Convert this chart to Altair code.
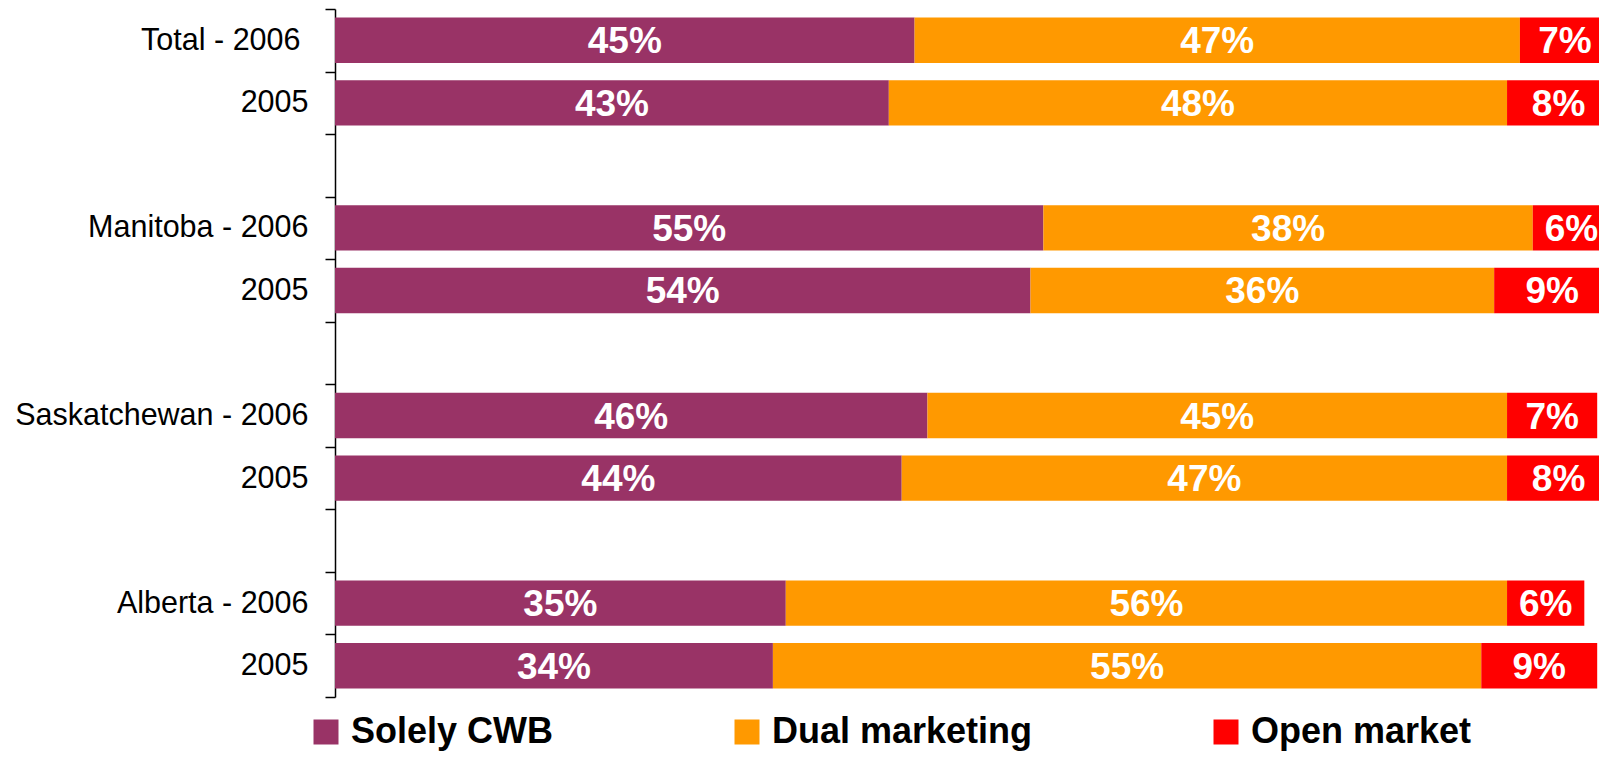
import json
import altair as alt
import pandas as pd

# ---- data ----
rows = ["Total - 2006", "Total - 2005", "gap1",
        "Manitoba - 2006", "Manitoba - 2005", "gap2",
        "Saskatchewan - 2006", "Saskatchewan - 2005", "gap3",
        "Alberta - 2006", "Alberta - 2005"]
row_labels = ["Total - 2006", "2005", "",
              "Manitoba - 2006", "2005", "",
              "Saskatchewan - 2006", "2005", "",
              "Alberta - 2006", "2005"]
bar_rows = ["Total - 2006", "Total - 2005",
            "Manitoba - 2006", "Manitoba - 2005",
            "Saskatchewan - 2006", "Saskatchewan - 2005",
            "Alberta - 2006", "Alberta - 2005"]
series = ["Solely CWB", "Dual marketing", "Open market"]
solely_cwb = [45, 43, 55, 54, 46, 44, 35, 34]
dual_marketing = [47, 48, 38, 36, 45, 47, 56, 55]
open_market = [7, 8, 6, 9, 7, 8, 6, 9]
colors = ["#993366", "#FF9900", "#FF0000"]
x_max = 98.14  # visible part of the 0-100% axis

records = []
for i, r in enumerate(bar_rows):
    for k, (s, vals) in enumerate(zip(series, [solely_cwb, dual_marketing, open_market])):
        records.append({"row": r, "series": s, "k": k, "value": vals[i]})
df = pd.DataFrame(records)

label_expr = json.dumps(dict(zip(rows, row_labels)), ensure_ascii=False) + "[datum.value]"

base = alt.Chart(df).transform_stack(
    stack="value", groupby=["row"], as_=["x0", "x1"],
    sort=[alt.SortField("k", order="ascending")]
).transform_calculate(
    mid="(datum.x0 + datum.x1) / 2",
    lab="datum.value + '%'"
)

y_scale = alt.Scale(domain=rows, paddingInner=0, paddingOuter=0)
x_scale = alt.Scale(domain=[0, x_max], nice=False, zero=True)

y_enc = alt.Y(
    "row:N",
    scale=y_scale,
    axis=alt.Axis(
        title=None, labelExpr=label_expr, tickBand="extent",
        labelFont="Liberation Sans", labelFontSize=30.5, labelColor="black",
        labelPadding={"condition": {"test": "datum.value == 'Total - 2006'", "value": 25}, "value": 17},
        tickSize=10, tickColor="black", tickWidth=1.5,
        domainColor="black", domainWidth=1.5, grid=False, labelLimit=0,
    ),
)

bars = base.mark_bar(height=alt.RelativeBandSize(0.725), clip=True).encode(
    y=y_enc,
    x=alt.X("x0:Q", scale=x_scale, axis=None),
    x2="x1:Q",
    color=alt.Color(
        "series:N",
        scale=alt.Scale(domain=series, range=colors),
        legend=alt.Legend(
            title=None, orient="none", legendX=-27, legendY=705,
            direction="horizontal", symbolType="square", symbolSize=625,
            symbolStrokeWidth=0, symbolOpacity=1,
            labelFont="Liberation Sans", labelFontSize=36, labelFontWeight="bold",
            labelColor="black", labelOffset=7, columnPadding=175, padding=0,
            labelLimit=0,
        ),
    ),
)

texts = base.mark_text(
    font="Liberation Sans", fontSize=37, fontWeight="bold", color="white",
    align="center", baseline="middle", dy=2,
).encode(
    y=alt.Y("row:N", scale=y_scale),
    x=alt.X("mid:Q", scale=x_scale),
    text="lab:N",
)

chart = alt.layer(bars, texts).properties(
    width=1264, height=688,
    autosize=alt.AutoSizeParams(type="none"),
    padding={"left": 327, "top": 1, "right": 0, "bottom": 57},
).configure_view(stroke=None)

chart.save("out.html", embed_options={"renderer": "svg", "actions": False})
